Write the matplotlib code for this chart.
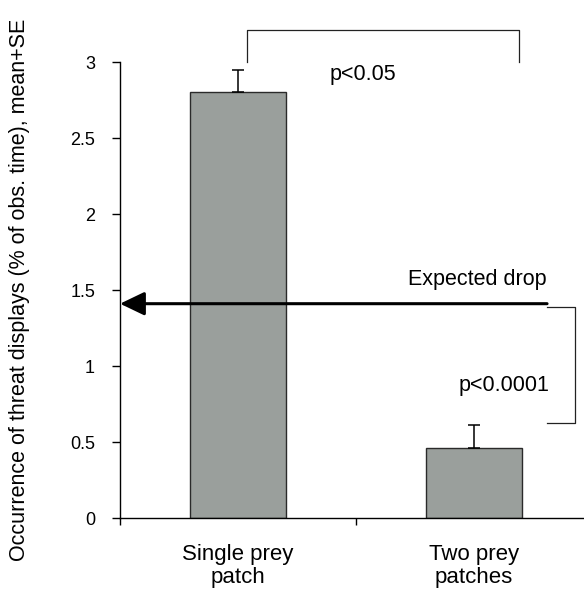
import matplotlib
matplotlib.use("Agg")
import matplotlib.pyplot as plt

plt.rcParams['font.family'] = ['Liberation Sans', 'DejaVu Sans']

# data
categories = ["Single prey\npatch", "Two prey\npatches"]
means = [2.80, 0.46]
se = [0.15, 0.15]
expected_drop = 1.41

fig = plt.figure(figsize=(5.84, 5.90), dpi=100)
ax = fig.add_axes([0.2055, 0.122, 0.808, 0.7729])

x = list(range(len(categories)))
ax.bar(x, means, width=0.41, color='#9a9f9c', edgecolor='#2a2a2a', linewidth=1.0, zorder=2)
ax.errorbar(x, means, yerr=[[0, 0], se], fmt='none', ecolor='black',
            elinewidth=1.1, capsize=4, capthick=1.1, zorder=3)

ax.set_xlim(-0.5, 1.5)
ax.set_ylim(0, 3)
ax.set_yticks([0, 0.5, 1, 1.5, 2, 2.5, 3])
ax.set_yticklabels(['0', '0.5', '1', '1.5', '2', '2.5', '3'])
ax.set_xticks([-0.5, 0.5, 1.5])
ax.set_xticklabels([])
ax.tick_params(axis='y', direction='out', length=6, width=1, labelsize=13, pad=12)
ax.tick_params(axis='x', direction='out', length=5, width=1)
for sp in ['top', 'right']:
    ax.spines[sp].set_visible(False)
ax.spines['left'].set_linewidth(1.0)
ax.spines['bottom'].set_linewidth(1.0)

for xi, lab in zip(x, categories):
    ax.text(xi, -0.17, lab, ha='center', va='top', fontsize=16,
            linespacing=1.12, clip_on=False)

ax.set_ylabel("Occurrence of threat displays (% of obs. time), mean+SE",
              fontsize=15.5)
ax.yaxis.set_label_coords(-0.19, 0.5)

# expected drop arrow
ax.annotate('', xy=(-0.5, expected_drop), xytext=(1.31, expected_drop),
            arrowprops=dict(arrowstyle='-|>,head_length=1.0,head_width=0.48',
                            mutation_scale=15, lw=2.2, color='black',
                            shrinkA=0, shrinkB=0), zorder=4)
ax.text(1.31, 1.57, "Expected drop", ha='right', va='center', fontsize=15.5)

# significance brackets
ax.plot([0.04, 0.04, 1.19, 1.19], [3.0, 3.21, 3.21, 3.0], color='#222222',
        lw=0.9, clip_on=False)
ax.text(0.39, 2.92, "p<0.05", ha='left', va='center', fontsize=15.5)

ax.plot([1.31, 1.43, 1.43, 1.31], [1.39, 1.39, 0.625, 0.625], color='#222222',
        lw=0.9, clip_on=False)
ax.text(1.32, 0.875, "p<0.0001", ha='right', va='center', fontsize=15.5)

fig.savefig("out.png", dpi=100)
